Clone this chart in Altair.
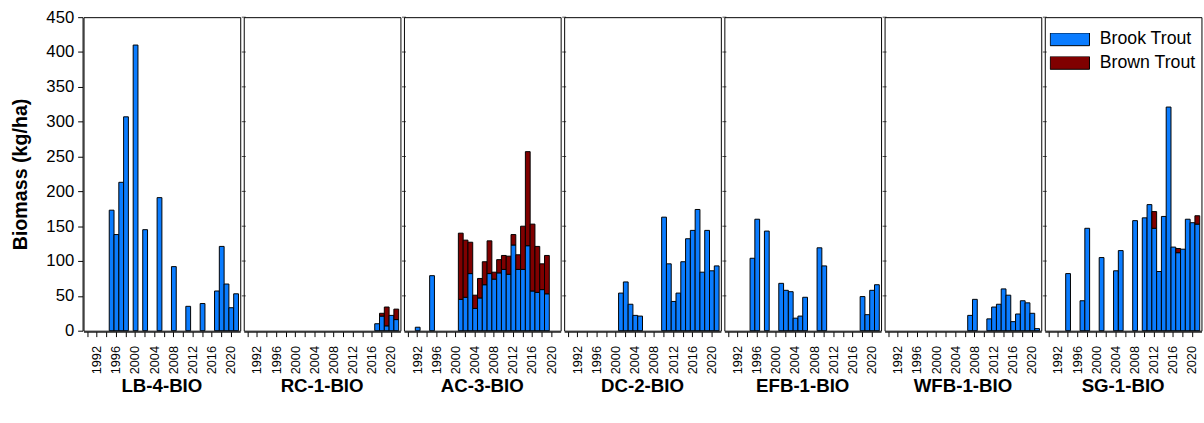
import altair as alt
import pandas as pd

FONT = "Liberation Sans"

SITES = ["LB-4-BIO", "RC-1-BIO", "AC-3-BIO", "DC-2-BIO", "EFB-1-BIO", "WFB-1-BIO", "SG-1-BIO"]
YEARS = list(range(1990, 2022))
TICK_YEARS = list(range(1990, 2021, 2))
Y_TICKS = list(range(0, 451, 50))
SPECIES = ["Brook Trout", "Brown Trout"]
COLORS = ["#0A7CFF", "#800000"]

# LB-4-BIO
LB4_YEARS = [1995, 1996, 1997, 1998, 2000, 2002, 2005, 2008, 2011, 2014, 2017, 2018, 2019, 2020, 2021]
LB4_BROOK = [173, 138, 213, 307, 410, 145, 191, 92, 35, 39, 57, 121, 67, 33, 53]
LB4_BROWN = [0] * 15

# RC-1-BIO
RC1_YEARS = [2017, 2018, 2019, 2020, 2021]
RC1_BROOK = [10, 21, 7, 22, 16]
RC1_BROWN = [0, 4, 27, 0, 15]

# AC-3-BIO
AC3_YEARS = [1992, 1995] + list(range(2001, 2020))
AC3_BROOK = [5, 79, 45, 48, 82, 32, 47, 66, 82, 74, 83, 88, 81, 123, 88, 88, 122, 57, 55, 59, 53]
AC3_BROWN = [0, 0, 95, 82, 45, 19, 28, 33, 47, 10, 19, 20, 26, 15, 21, 62, 135, 96, 66, 37, 55]

# DC-2-BIO
DC2_YEARS = [2001, 2002, 2003, 2004, 2005] + list(range(2010, 2022))
DC2_BROOK = [54, 70, 38, 22, 21, 163, 96, 42, 54, 99, 132, 144, 174, 84, 144, 86, 93]
DC2_BROWN = [0] * 17

# EFB-1-BIO
EFB1_YEARS = [1995, 1996, 1998, 2001, 2002, 2003, 2004, 2005, 2006, 2009, 2010, 2018, 2019, 2020, 2021]
EFB1_BROOK = [104, 160, 143, 68, 58, 56, 18, 21, 48, 119, 93, 49, 23, 58, 66]
EFB1_BROWN = [0] * 15

# WFB-1-BIO
WFB1_YEARS = [2007, 2008] + list(range(2011, 2022))
WFB1_BROOK = [22, 45, 17, 34, 38, 60, 51, 13, 24, 43, 40, 25, 3]
WFB1_BROWN = [0] * 13

# SG-1-BIO
SG1_YEARS = [1994, 1997, 1998, 2001, 2004, 2005, 2008] + list(range(2010, 2022))
SG1_BROOK = [82, 43, 147, 105, 86, 115, 158, 162, 181, 147, 85, 164, 321, 120, 112, 117, 160, 155, 153]
SG1_BROWN = [0, 0, 0, 0, 0, 0, 0, 0, 0, 24, 0, 0, 0, 0, 6, 0, 0, 0, 12]

SITE_DATA = {
    "LB-4-BIO": (LB4_YEARS, LB4_BROOK, LB4_BROWN),
    "RC-1-BIO": (RC1_YEARS, RC1_BROOK, RC1_BROWN),
    "AC-3-BIO": (AC3_YEARS, AC3_BROOK, AC3_BROWN),
    "DC-2-BIO": (DC2_YEARS, DC2_BROOK, DC2_BROWN),
    "EFB-1-BIO": (EFB1_YEARS, EFB1_BROOK, EFB1_BROWN),
    "WFB-1-BIO": (WFB1_YEARS, WFB1_BROOK, WFB1_BROWN),
    "SG-1-BIO": (SG1_YEARS, SG1_BROOK, SG1_BROWN),
}

rows = []
for site, (yrs, brook, brown) in SITE_DATA.items():
    for y, a, b in zip(yrs, brook, brown):
        if a > 0:
            rows.append({"kind": "bar", "site": site, "year": y, "species": SPECIES[0], "sp": 0, "v": a})
        if b > 0:
            rows.append({"kind": "bar", "site": site, "year": y, "species": SPECIES[1], "sp": 1, "v": b})
# small tick marks on the panel separators
for site in SITES[1:]:
    for t in Y_TICKS[1:]:
        rows.append({"kind": "tick", "site": site, "year": None, "species": None, "sp": None, "v": t})
df = pd.DataFrame(rows)

x_scale = alt.Scale(domain=YEARS, paddingInner=0, paddingOuter=0.37)
y_scale = alt.Scale(domain=[0, 450])
x_axis = alt.Axis(
    values=TICK_YEARS,
    labelExpr="datum.value % 4 == 0 ? datum.label : ''",
    labelAngle=-90,
    labelFontSize=13,
    labelPadding=9,
    tickSize=5,
    title=None,
)
y_axis = alt.Axis(
    values=Y_TICKS,
    title="Biomass (kg/ha)",
    titleFontSize=20,
    titleFontWeight="bold",
    titlePadding=16,
    labelFontSize=17,
    labelPadding=4,
    tickSize=5,
)

bars = alt.Chart().transform_filter(alt.datum.kind == "bar").mark_bar(
    stroke="black", strokeWidth=1
).encode(
    x=alt.X("year:O", scale=x_scale, axis=x_axis),
    y=alt.Y("v:Q", stack="zero", scale=y_scale, axis=y_axis),
    color=alt.Color(
        "species:N",
        scale=alt.Scale(domain=SPECIES, range=COLORS),
        legend=alt.Legend(
            title=None,
            orient="none",
            legendX=983,
            legendY=16,
            symbolType="M-1,-0.325H1V0.325H-1Z",
            symbolSize=1600,
            symbolStrokeColor="black",
            symbolStrokeWidth=1,
            symbolOpacity=1,
            clipHeight=13,
            rowPadding=5,
            labelFontSize=18,
            labelFont=FONT,
            labelOffset=10,
            labelColor="black",
        ),
    ),
    order=alt.Order("sp:Q"),
)

ticks = alt.Chart().transform_filter(alt.datum.kind == "tick").mark_tick(
    orient="horizontal", color="black", size=4, thickness=1
).encode(
    x=alt.value(0),
    y=alt.Y("v:Q", scale=y_scale, axis=y_axis),
)

chart = alt.layer(bars, ticks, data=df).properties(
    width=159.43, height=319
).facet(
    column=alt.Column(
        "site:N",
        sort=SITES,
        title=None,
        header=alt.Header(
            labelOrient="bottom",
            labelFont=FONT,
            labelFontSize=19,
            labelFontWeight="bold",
            labelColor="black",
            labelPadding=3,
        ),
    ),
    spacing=0,
).properties(
    padding={"left": 10, "top": 5, "right": 2, "bottom": 0}
).configure_view(
    stroke="black", strokeWidth=1
).configure_axis(
    labelFont=FONT,
    titleFont=FONT,
    labelColor="black",
    titleColor="black",
    domainColor="black",
    tickColor="black",
    grid=False,
)

chart.save("out.html", embed_options={"renderer": "svg", "actions": False})
